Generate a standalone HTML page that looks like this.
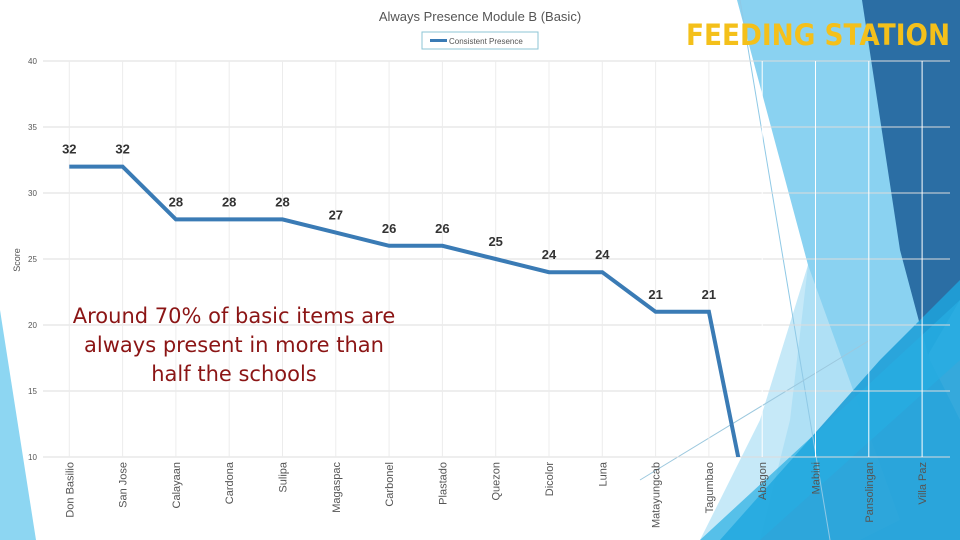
<!DOCTYPE html>
<html><head><meta charset="utf-8">
<style>
body{margin:0;width:960px;height:540px;overflow:hidden;background:#fff;font-family:"Liberation Sans",sans-serif;}
svg{position:absolute;left:0;top:0}
</style></head><body>
<svg width="960" height="540">
 <g>
  <polygon points="0,310 0,540 36,540" fill="#8dd6f2"/>
  <polygon points="737,0 870,0 930,360 960,420 960,540 760,540 790,420 808,265" fill="#7dcdf0" opacity="0.9"/>
  <polygon points="808,265 900,520 860,540 700,540 760,420" fill="#b8e3f6" opacity="0.8"/>
  <polygon points="862,0 960,0 960,300 928,355 900,250" fill="#2b6ea4"/>
  <polygon points="960,280 960,540 720,540 880,360" fill="#1fa0d8" opacity="0.9"/>
  <polygon points="700,540 960,300 960,360 760,540" fill="#27aee3" opacity="0.7"/>
  <line x1="740" y1="0" x2="830" y2="540" stroke="#8fc9e6" stroke-width="1"/>
  <line x1="640" y1="480" x2="870" y2="340" stroke="#9cc8de" stroke-width="1"/>
 </g>
 <g id="grid"></g>
 <g id="axes"></g>
 <g id="series"></g>
 <text x="480" y="21" text-anchor="middle" font-size="13" fill="#555">Always Presence Module B (Basic)</text>
 <g>
  <rect x="422" y="32" width="116" height="17" fill="#fff" stroke="#8cc6d6" stroke-width="1"/>
  <rect x="430" y="39" width="17" height="3" fill="#3a7bb5"/>
  <text x="449" y="44" font-size="8" fill="#555">Consistent Presence</text>
 </g>
 <text x="20" y="260" transform="rotate(-90 20 260)" text-anchor="middle" font-size="9" fill="#555">Score</text>
 <text x="686" y="45" font-size="29" font-weight="bold" fill="#f4c01a" textLength="264" lengthAdjust="spacingAndGlyphs" font-family="'DejaVu Sans',sans-serif">FEEDING STATION</text>
 <g font-size="21" fill="#8b1515" text-anchor="middle" font-family="'DejaVu Sans',sans-serif">
  <text x="234" y="323">Around 70% of basic items are</text>
  <text x="234" y="352">always present in more than</text>
  <text x="234" y="381">half the schools</text>
 </g>
</svg>
<script>
const categories=["Don Basilio","San Jose","Calayaan","Cardona","Sulipa","Magaspac","Carbonel","Plastado","Quezon","Dicolor","Luna","Matayungcab","Tagumbao","Abagon","Mabini","Pansolingan","Villa Paz"];
const values=[32,32,28,28,28,27,26,26,25,24,24,21,21,1,1,1,1];
const labeledCount=13;
const yTicks=[10,15,20,25,30,35,40];
const NS="http://www.w3.org/2000/svg";
const left=43,right=950,x0=69.3,step=53.3,yTop=61,yBot=457,yMin=10,yMax=40;
function xs(i){return x0+i*step;}
function ys(v){return yBot-(v-yMin)/(yMax-yMin)*(yBot-yTop);}
function mk(tag,attrs,parent){const e=document.createElementNS(NS,tag);for(const k in attrs)e.setAttribute(k,attrs[k]);parent.appendChild(e);return e;}
const grid=document.getElementById('grid'),axes=document.getElementById('axes'),series=document.getElementById('series');
yTicks.forEach(t=>{
 const l=mk('line',{x1:left,x2:right,y1:ys(t),y2:ys(t),stroke:'#dcdcdc','stroke-width':1},grid);
 
 
 const tx=mk('text',{x:28,y:ys(t)+3,'font-size':8,fill:'#555'},axes);
 tx.textContent=t;
 
 
});
categories.forEach((c,i)=>{
 const l=mk('line',{x1:xs(i),x2:xs(i),y1:yTop,y2:yBot,stroke:i>=13?'#ffffff':'#ececec','stroke-width':1},grid);
 
 
 const x=xs(i)+4,y=462;
 const tx=mk('text',{x:x,y:y,'font-size':11,fill:'#555','text-anchor':'end',transform:`rotate(-90 ${x} ${y})`},axes);
 tx.textContent=c;
 
 
});
mk('clipPath',{id:'clip'},series).innerHTML=`<rect x="${left}" y="${yTop-5}" width="${right-left}" height="${yBot-yTop+5}"/>`;
const pts=values.map((v,i)=>xs(i)+','+ys(v)).join(' ');
const pl=mk('polyline',{points:pts,fill:'none',stroke:'#3a7bb5','stroke-width':4,'stroke-linejoin':'miter','clip-path':'url(#clip)'},series);


values.forEach((v,i)=>{
 if(i>=labeledCount)return;
 const tx=mk('text',{x:xs(i),y:ys(v)-13,'font-size':13,'font-weight':'bold',fill:'#333','text-anchor':'middle'},series);
 tx.textContent=v;
 
 
});
</script>
</body></html>
